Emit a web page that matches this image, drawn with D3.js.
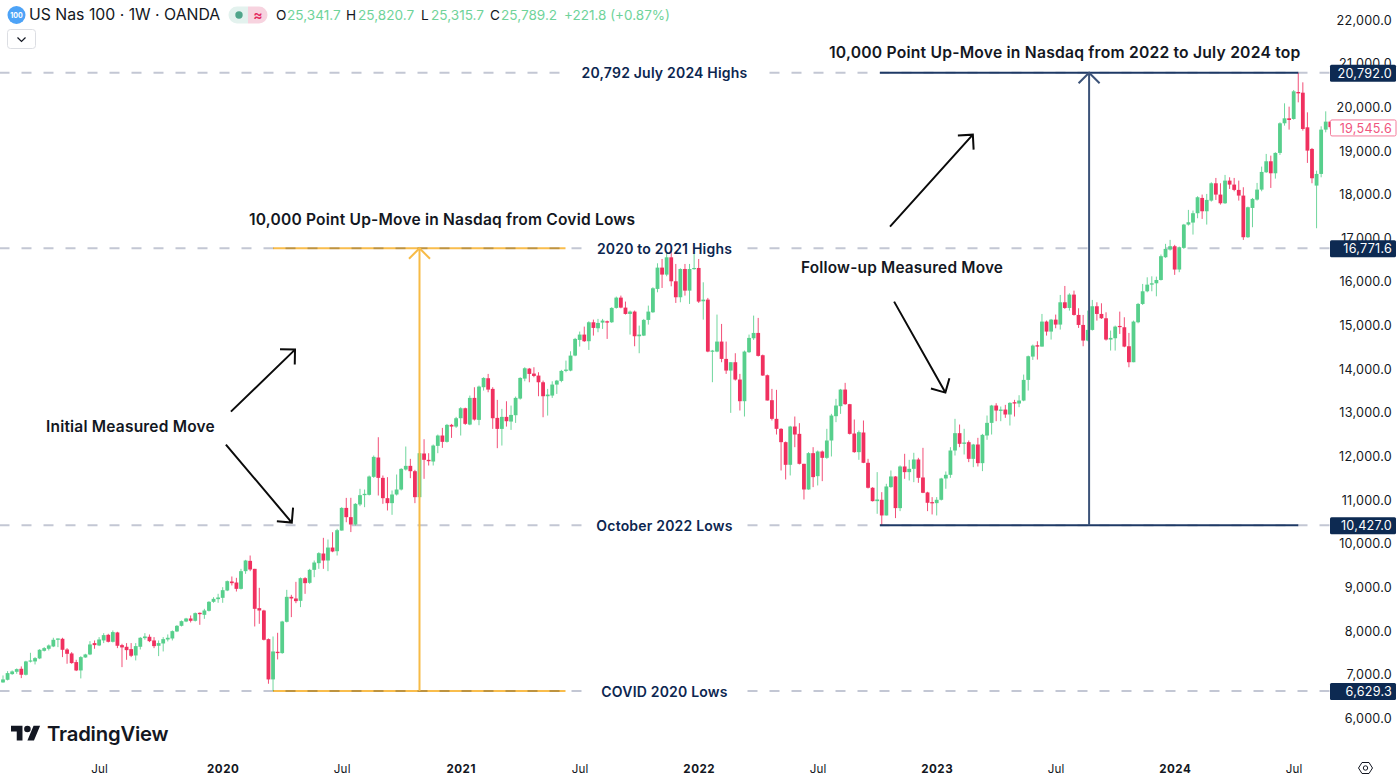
<!DOCTYPE html>
<html>
<head>
<meta charset="utf-8">
<title>US Nas 100 weekly</title>
<script src="https://cdn.jsdelivr.net/npm/d3@7/dist/d3.min.js"></script>
<style>
  html, body { margin: 0; padding: 0; background: #fff; }
  svg { display: block; font-family: Inter, "Noto Sans", sans-serif; }
</style>
</head>
<body>
<svg id="chart" width="1400" height="780"></svg>
<script>
// Weekly candles as [open, high, low, close], grouped by calendar year.
const candles2019 = [
  [6826,6986,6820,6895],[6887,7085,6872,7040],[7017,7100,7000,7078],[7070,7147,7025,7131],
  [7139,7193,6925,7002],[7002,7322,6986,7307],[7307,7505,7284,7330],[7307,7406,7238,7383],
  [7376,7589,7360,7574],[7551,7635,7536,7612],[7597,7696,7559,7673],[7650,7849,7635,7803],
  [7803,7833,7635,7833],[7826,7849,7406,7574],[7581,7612,7254,7482],[7490,7520,7254,7269],
  [7292,7345,7086,7101],[7101,7429,6918,7406],[7398,7482,7391,7467],[7467,7772,7452,7696],
  [7727,7788,7597,7681],[7673,7864,7658,7810],[7788,7955,7727,7910],[7917,7940,7742,7757],
  [7757,8017,7742,7979],[7971,7986,7612,7666],[7681,7711,7177,7628],[7643,7727,7345,7566],
  [7589,7727,7406,7437],[7444,7727,7330,7658],[7643,7864,7581,7849],[7841,7955,7803,7879],
  [7872,7925,7750,7772],[7788,7864,7612,7658],[7666,7788,7429,7727],[7719,7864,7536,7818],
  [7810,7925,7765,7849],[7833,8017,7788,8001],[7994,8139,7979,8123],[8123,8245,8108,8230],
  [8222,8306,8207,8291],[8291,8360,8200,8238],[8238,8428,8222,8413],[8421,8428,8146,8390],
  [8375,8512,8283,8474],[8467,8688,8451,8673],[8673,8779,8650,8741],[8734,8856,8650,8772]
];
const candles2020 = [
  [8764,9008,8650,8940],[8932,9161,8917,9146],[9138,9253,9047,9100],[9115,9222,8909,8970],
  [8970,9428,8955,9375],[9375,9634,9314,9619],[9611,9733,9375,9413],[9428,9428,8108,8512],
  [8528,8993,8169,8474],[8474,8490,7788,7803],[7818,7833,6796,6895],[6895,7879,6629.3,7536],
  [7528,7963,7353,7498],[7498,8238,7482,8222],[8215,8947,8200,8787],[8787,8833,8322,8749],
  [8749,9130,8642,8688],[8696,9230,8551,9214],[9214,9237,8856,9100],[9108,9428,9085,9405],
  [9405,9619,9237,9573],[9558,9809,9428,9787],[9779,10138,9428,9619],[9619,10100,9375,9916],
  [9916,10267,9809,9825],[9832,10344,9733,10313],[10305,10840,10305,10824],[10824,11053,10496,10612],
  [10612,11055,10270,10444],[10444,10933,10420,10917],[10902,11261,10864,11116],[11116,11245,10841,11146],
  [11123,11566,11108,11543],[11535,12024,11512,11993],[11978,12443,11108,11512],[11512,11566,10917,11047],
  [11047,11528,10765,10933],[10933,11223,10665,11131],[11131,11589,11108,11245],[11245,11734,11223,11718],
  [11703,12230,11680,11787],[11787,11947,11505,11665],[11665,11696,10933,11070],[11070,12100,10940,12077],
  [12070,12397,11490,11925],[11925,12077,11795,11894],[11886,12276,11795,12253],[12245,12504,12077,12482],
  [12482,12657,12199,12337],[12337,12748,12321,12726],[12726,12748,12428,12687],[12687,12909,12657,12878]
];
const candles2021 = [
  [12878,13130,12482,13107],[13107,13120,12726,12749],[12733,13397,12718,13344],[13344,13588,12825,12848],
  [12840,13626,12718,13603],[13588,13817,13512,13801],[13794,13893,13473,13534],[13550,13588,12634,12878],
  [12886,13298,12192,12634],[12634,13092,12252,12909],[12909,13267,12687,12810],[12802,13168,12611,12954],
  [12947,13374,12771,13344],[13328,13817,13305,13801],[13786,14046,13725,14023],[14015,14030,13702,13893],
  [13901,14046,13817,13847],[13855,13931,13382,13702],[13702,13740,12901,13382],[13382,13550,12939,13420],
  [13397,13725,13344,13649],[13649,13756,13435,13740],[13733,13985,13702,13962],[13962,14198,13931,13992],
  [13969,14412,13954,14313],[14313,14718,14298,14695],[14672,14863,14520,14794],[14794,14977,14626,14642],
  [14642,15099,14443,15076],[15076,15137,14771,14947],[14939,15153,14848,15061],[15069,15153,14924,15115],
  [15099,15115,14695,15069],[15076,15420,15061,15405],[15405,15664,15389,15641],[15641,15687,15397,15412],
  [15412,15550,15252,15267],[15267,15344,14794,15321],[15321,15344,14527,14756],[14756,15000,14367,14794],
  [14771,15153,14760,15130],[15130,15458,15023,15321],[15305,15878,15290,15855],[15840,16427,15763,16328],
  [16328,16526,15862,16168],[16168,16679,16130,16564],[16564,16771.6,15900,16015],[16015,16412,15519,15649],
  [15649,16312,15534,16297],[16297,16412,15687,15801],[15801,16412,15496,16297],[16297,16640,16282,16320]
];
const candles2022 = [
  [16320,16526,15519,15550],[15557,15992,15137,15595],[15595,15634,14390,14405],[14405,14443,13703,14428],
  [14405,15252,14390,14634],[14634,15038,14161,14237],[14237,14634,13894,13970],[13970,14161,13001,14161],
  [14161,14367,13741,13764],[13764,13894,13055,13268],[13268,14428,12917,14405],[14390,14794,14375,14718],
  [14710,15229,14672,14832],[14832,15176,14291,14306],[14321,14336,13848,13856],[13863,13879,13284,13284],
  [13291,13550,12826,12864],[12864,13528,12505,12635],[12635,12650,11681,12330],[12330,12345,11475,11811],
  [11811,12704,11567,12688],[12688,12917,12215,12505],[12520,12765,11819,11834],[11834,11834,11017,11246],
  [11246,12101,11239,12078],[12078,12215,11300,11529],[11551,12139,11338,12116],[12116,12139,11437,11971],
  [11971,12635,11948,12368],[12368,12978,12002,12940],[12925,13322,12788,13169],[13154,13550,12978,13535],
  [13535,13688,13184,13200],[13200,13207,12505,12520],[12528,12849,12086,12101],[12101,12597,11925,12559],
  [12551,12826,11849,11857],[11857,11948,11269,11285],[11285,11300,10971,10979],[10979,11643,10689,11017],
  [11010,11185,10427,10651],[10651,11376,10651,11315],[11300,11681,11285,11544],[11544,11552,10590,10819],
  [10819,11796,10750,11773],[11773,12063,11490,11643],[11643,11925,11452,11719],[11719,12086,11414,11933],
  [11933,11971,11399,11513],[11521,12200,11162,11170],[11178,11193,10750,10941],[10956,11071,10674,10933]
];
const candles2023 = [
  [10933,11071,10651,11010],[11010,11513,10994,11498],[11498,11658,11262,11582],[11582,12215,11513,12139],
  [12139,12864,12024,12536],[12536,12734,12215,12292],[12292,12635,12047,12322],[12330,12368,11872,11948],
  [11948,12290,11757,12276],[12276,12429,11772,11849],[11849,12520,11666,12497],[12482,12940,12383,12772],
  [12772,13184,12505,13169],[13169,13222,12810,13054],[13047,13146,12810,13077],[13077,13184,12887,12963],
  [12963,13245,12711,13230],[13245,13299,12917,13215],[13215,13405,13131,13283],[13283,13878,13268,13756],
  [13756,14313,13512,14298],[14290,14565,14214,14542],[14550,14641,14222,14519],[14519,15267,14519,15092],
  [15092,15115,14771,14863],[14863,15153,14680,15137],[15137,15252,14939,15023],[15023,15702,14909,15534],
  [15534,15908,15382,15404],[15404,15740,15343,15710],[15710,15801,15229,15244],[15244,15397,14947,15015],
  [15015,15244,14527,14657],[14657,15343,14641,14901],[14901,15588,14886,15443],[15443,15534,15114,15267],
  [15267,15511,15153,15168],[15168,15305,14657,14680],[14680,14886,14428,14718],[14710,15000,14428,14977],
  [14992,15320,14809,14970],[14962,15191,14504,14519],[14527,14832,14046,14161],[14161,15114,14161,15092],
  [15076,15519,15053,15496],[15496,15954,15473,15786],[15786,16106,15763,15938],[15938,16129,15786,15969],
  [15969,16122,15671,16045],[16045,16627,16032,16589],[16566,16872,16551,16757],[16742,16963,16719,16818]
];
const candles2024 = [
  [16818,16849,16162,16284],[16284,16810,16223,16795],[16780,17329,16757,17314],[17314,17650,17291,17367],
  [17360,17635,17085,17574],[17574,17963,17459,17940],[17924,18001,17444,17619],[17619,18016,17314,17879],
  [17863,18283,17840,18260],[18260,18382,17878,18001],[18001,18260,17772,17802],[17802,18451,17787,18321],
  [18321,18397,18130,18230],[18230,18382,18077,18108],[18108,18321,17863,17978],[17978,18169,16963,17024],
  [17024,17725,17009,17711],[17695,17924,17253,17902],[17886,18268,17863,18115],[18115,18642,18077,18520],
  [18512,18932,18497,18764],[18764,18893,18153,18489],[18489,18970,18367,18955],[18955,19656,18909,19634],
  [19634,20091,19580,19748],[19748,20015,19489,19710],[19733,20397,19717,20366],[20351,20792,20114,20320],
  [20335,20572,19466,19504],[19542,19885,18726,19008],[19046,19069,18260,18375],[18207,18550,17230,18474],
  [18474,19565,18397,19489],[19489,19908,19427,19672],[19672,19695,19504,19545.6]
];

// Price axis and time axis.
const priceTicks = [6000,7000,8000,9000,10000,11000,12000,13000,14000,15000,16000,17000,18000,19000,20000,21000,22000];
const timeTickBars = [21,48,74,100,126,152,178,204,230,256,282];
const timeTickLabels = ["Jul","2020","Jul","2021","Jul","2022","Jul","2023","Jul","2024","Jul"];

// Horizontal levels with their captions.
const levelPrices = [20792, 16771.6, 10427, 6629.3];
const levelCaptions = ["20,792 July 2024 Highs","2020 to 2021 Highs","October 2022 Lows","COVID 2020 Lows"];
const lastClose = 19545.6;

// Measured-move brackets: first bar, last bar, bar of the upright, low price, high price.
const moveCovid = [59, 122.9, 91, 6629.3, 16771.6];
const moveOctober = [191.6, 283, 237.3, 10427, 20792];

// Hand-drawn arrows: tail bar, tail price, tip bar, tip price.
const pointerArrows = [
  [49.8,13030,63.8,14450],
  [48.7,12275,63.1,10488],
  [193.8,17267,211.9,19374],
  [194.7,15549,205.9,13465]
];

const bars = [candles2019,candles2020,candles2021,candles2022,candles2023,candles2024].flat()
  .map(([open,high,low,close],i) => ({i,open,high,low,close}));

const x = d3.scaleLinear().domain([0,290]).range([3,1330.3]);
const y = d3.scaleLinear().domain([6000,22000]).range([718.5,20]);

const UP = "#57cf8c", DOWN = "#f0305f", NAVY_TAG = "#0d2a52", TEXT = "#131722";
const svg = d3.select("#chart");
svg.append("rect").attr("width",1400).attr("height",780).attr("fill","#fff");

svg.append("defs").append("clipPath").attr("id","plotArea")
  .append("rect").attr("x",0).attr("y",0).attr("width",1330).attr("height",755);

const plot = svg.append("g").attr("clip-path","url(#plotArea)");

// Dashed levels, broken by a white gap behind each caption.
plot.append("g").selectAll("line").data(levelPrices).join("line")
  .attr("x1",-0.5).attr("x2",1330)
  .attr("y1",d=>y(d)).attr("y2",d=>y(d))
  .attr("stroke","#c3c7d4").attr("stroke-width",2).attr("stroke-dasharray","10 12");
const captionGaps = plot.append("g");

// Candles.
const candle = plot.append("g").selectAll("g").data(bars).join("g")
  .attr("fill",d=>d.close>=d.open?UP:DOWN)
  .attr("stroke",d=>d.close>=d.open?UP:DOWN);
candle.append("line")
  .attr("x1",d=>x(d.i)).attr("x2",d=>x(d.i))
  .attr("y1",d=>y(d.high)).attr("y2",d=>y(d.low))
  .attr("stroke-width",1).attr("stroke-opacity",0.85);
candle.append("rect")
  .attr("x",d=>x(d.i)-1.9).attr("width",3.8)
  .attr("y",d=>y(Math.max(d.open,d.close)))
  .attr("height",d=>Math.max(1.2,Math.abs(y(d.open)-y(d.close))))
  .attr("stroke","none");

// Measured-move brackets.
function drawMove(g,[x0,x1,xm,lo,hi],color,upright,blend){
  [lo,hi].forEach(p=>{
    g.append("line").attr("x1",x(x0)).attr("x2",x(x1)).attr("y1",y(p)).attr("y2",y(p))
      .attr("stroke",color).attr("stroke-width",2).style("mix-blend-mode",blend);
  });
  g.append("line").attr("x1",x(xm)).attr("x2",x(xm)).attr("y1",y(lo)).attr("y2",y(hi))
    .attr("stroke",upright).attr("stroke-width",2);
  g.append("path")
    .attr("d",`M${x(xm)-10.5},${y(hi)+10.5}L${x(xm)},${y(hi)}L${x(xm)+10.5},${y(hi)+10.5}`)
    .attr("fill","none").attr("stroke",upright).attr("stroke-width",2);
}
drawMove(plot.append("g"),moveCovid,"#f9bd4c","#f7bb47","multiply");
drawMove(plot.append("g"),moveOctober,"#1f3a66","#3c5379","normal");

// Pointer arrows with an open head.
const arrows = plot.append("g").attr("fill","none").attr("stroke","#0b0b0b").attr("stroke-width",2);
pointerArrows.forEach(([b0,p0,b1,p1])=>{
  const tx=x(b0), ty=y(p0), hx=x(b1), hy=y(p1);
  const a=Math.atan2(hy-ty,hx-tx), len=15, spread=Math.PI/4;
  arrows.append("path").attr("d",
    `M${tx},${ty}L${hx},${hy}`+
    `M${hx-len*Math.cos(a-spread)},${hy-len*Math.sin(a-spread)}L${hx},${hy}`+
    `L${hx-len*Math.cos(a+spread)},${hy-len*Math.sin(a+spread)}`);
});

// Level captions above the candles; gaps sized from the measured text.
const capG = svg.append("g");
levelCaptions.forEach((t,i)=>{
  const label = capG.append("text").attr("x",664.5).attr("y",y(levelPrices[i])+5.6)
    .attr("text-anchor","middle").attr("fill","#0c2650")
    .attr("font-size",14).attr("font-weight",600).attr("letter-spacing",0.2).text(t);
  const b = label.node().getBBox();
  captionGaps.append("rect").attr("x",b.x-12).attr("width",b.width+24)
    .attr("y",y(levelPrices[i])-3).attr("height",6).attr("fill","#fff");
});

// Free-standing notes: text, left edge, baseline, size.
const notes = [
  ["10,000 Point Up-Move in Nasdaq from Covid Lows",249,224.5,15.55],
  ["Initial Measured Move",46,431.5,15.5],
  ["Follow-up Measured Move",801,272.5,15.38],
  ["10,000 Point Up-Move in Nasdaq from 2022 to July 2024 top",829,57.5,15.7]
];
svg.append("g").selectAll("text").data(notes).join("text")
  .attr("x",d=>d[1]).attr("y",d=>d[2]).attr("fill",TEXT)
  .attr("font-size",d=>d[3]).attr("font-weight",600).attr("letter-spacing",0.2).text(d=>d[0]);

// Right price axis.
const yAxis = svg.append("g").attr("transform","translate(1392,0)")
  .call(d3.axisLeft(y).tickValues(priceTicks).tickSize(0).tickPadding(0).tickFormat(d3.format(",.1f")));
yAxis.select(".domain").remove();
yAxis.selectAll("text").attr("font-family","Inter").attr("font-size",12.6).attr("fill",TEXT).attr("letter-spacing",0.25);

// Bottom time axis.
const xAxis = svg.append("g").attr("transform","translate(0,764.5)")
  .call(d3.axisBottom(x).tickValues(timeTickBars).tickSize(0).tickPadding(0)
    .tickFormat((d,i)=>timeTickLabels[i]));
xAxis.select(".domain").remove();
xAxis.selectAll("text").attr("font-family","Inter").attr("font-size",11.6).attr("fill",TEXT)
  .attr("font-weight",(d,i)=>timeTickLabels[i]==="Jul"?400:700)
  .attr("letter-spacing",(d,i)=>timeTickLabels[i]==="Jul"?0.2:0.5);

// Price tags on the axis.
levelPrices.forEach(p=>{
  const c=y(p)+0.5;
  svg.append("rect").attr("x",1330).attr("y",c-8.5).attr("width",66).attr("height",17).attr("rx",1.5).attr("fill",NAVY_TAG);
  svg.append("text").attr("x",1392).attr("y",c+4.7).attr("text-anchor","end").attr("fill","#fff")
    .attr("font-size",12.6).attr("letter-spacing",0.25).text(d3.format(",.1f")(p));
});
{
  const c=y(lastClose)+0.8;
  svg.append("rect").attr("x",1330.5).attr("y",c-8).attr("width",65.5).attr("height",16).attr("rx",1.5)
    .attr("fill","#fff").attr("stroke","#f47c9b");
  svg.append("text").attr("x",1392).attr("y",c+4.7).attr("text-anchor","end").attr("fill","#f0557e")
    .attr("font-size",12.6).attr("letter-spacing",0.25).text(d3.format(",.1f")(lastClose));
}

// Settings glyph in the axis corner.
const gear = svg.append("g").attr("transform","translate(1365.5,768)").attr("fill","none").attr("stroke","#131722").attr("stroke-width",1);
gear.append("path").attr("d","M-7,0L-3.5,-5.5H3.5L7,0L3.5,5.5H-3.5Z");
gear.append("circle").attr("r",2.2);

// Legend row.
const head = svg.append("g");
head.append("circle").attr("cx",16.5).attr("cy",15).attr("r",9).attr("fill","#4da3f7");
head.append("text").attr("x",16.5).attr("y",17.5).attr("text-anchor","middle").attr("fill","#fff")
  .attr("font-size",7).attr("font-weight",700).text("100");
head.append("text").attr("x",29).attr("y",20).attr("fill",TEXT).attr("font-size",15.8)
  .text("US Nas 100 · 1W · OANDA");

head.append("path").attr("d","M237,6.5H248V23.5H237A8.5,8.5 0 0 1 237,6.5Z").attr("fill","#e3f2ee");
head.append("path").attr("d","M248,6.5H259A8.5,8.5 0 0 1 259,23.5H248Z").attr("fill","#f7d3df");
head.append("circle").attr("cx",239).attr("cy",15).attr("r",3.7).attr("fill","#4fa58a");
head.append("text").attr("x",258).attr("y",19.5).attr("text-anchor","middle").attr("fill","#e3295f")
  .attr("font-size",14).attr("font-weight",600).text("≈");

const ohlcLetters = ["O","H","L","C"];
const ohlcLetterX = [276,346,421,490];
const ohlcValues = ["25,341.7","25,820.7","25,315.7","25,789.2"];
const ohlcValueX = [287,358,431,501];
ohlcLetters.forEach((t,i)=>{
  head.append("text").attr("x",ohlcLetterX[i]).attr("y",19.5).attr("fill",TEXT).attr("font-size",13.6).text(t);
  head.append("text").attr("x",ohlcValueX[i]).attr("y",19.5).attr("fill","#6fd39a").attr("font-size",13.6).text(ohlcValues[i]);
});
head.append("text").attr("x",564).attr("y",19.5).attr("fill","#6fd39a").attr("font-size",13.5).text("+221.8 (+0.87%)");

// Collapse button below the legend.
head.append("rect").attr("x",7.5).attr("y",29.5).attr("width",28).attr("height",19).attr("rx",3)
  .attr("fill","#fff").attr("stroke","#dcdee3");
head.append("path").attr("d","M17.5,37.5L21.5,41.5L25.5,37.5").attr("fill","none").attr("stroke","#131722").attr("stroke-width",1.2);

// Brand mark.
const brand = svg.append("g").attr("transform","translate(11,722.5) scale(0.82)").attr("fill","#131722");
brand.append("path").attr("d","M14 22H7V11H0V4h14v18zM28 22h-8l7.5-18h8L28 22z");
brand.append("circle").attr("cx",20).attr("cy",8).attr("r",4);
svg.append("text").attr("x",47).attr("y",741).attr("fill","#131722")
  .attr("font-size",20.3).attr("font-weight",600).attr("letter-spacing",-0.2).text("TradingView");
</script>
</body>
</html>
